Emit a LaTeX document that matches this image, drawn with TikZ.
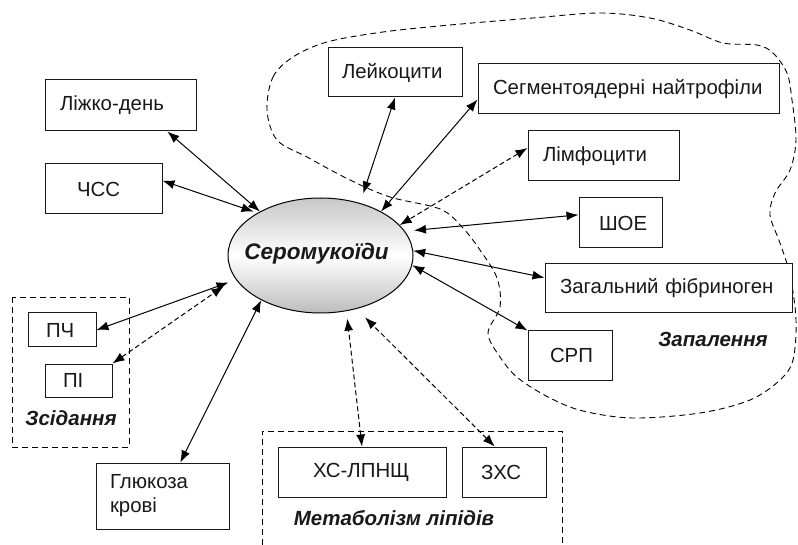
\documentclass[tikz,border=0pt]{standalone}
\usepackage{fontspec}
\setmainfont{Liberation Sans}
\usetikzlibrary{shapes.geometric,arrows.meta}
\tikzset{
  bx/.style={draw=black!90, line width=1pt, fill=white, text=black!90,
    font=\fontsize{20.4}{24}\selectfont, align=left, inner ysep=0pt},
  lbl/.style={text=black!90, font=\fontsize{20.5}{24}\selectfont\bfseries\itshape, inner sep=0pt},
  arr/.style={line width=1pt, {Latex[length=12pt,width=9pt]}-{Latex[length=12pt,width=9pt]}},
  darr/.style={arr, dash pattern=on 5pt off 3pt},
  dashline/.style={line width=0.9pt, dash pattern=on 6pt off 4pt},
}
\begin{document}
\begin{tikzpicture}[x=1pt,y=-1pt]
\useasboundingbox (0,0) rectangle (798,545);
% inflammation region
\draw[dashline] plot[smooth cycle, tension=0.55] coordinates {
 (267,110) (273,77) (293,57) (327,42) (383,32) (450,25) (533,18) (600,13)
 (650,18) (690,30) (723,43) (757,45) (773,53) (787,73) (792,100) (796,140)
 (790,170) (775,193) (770,215) (780,243) (790,275) (796,320) (793,360)
 (780,380) (750,400) (700,413) (633,418) (583,411) (550,398) (518,378)
 (500,357) (488,333) (500,307) (497,278) (480,250) (462,227) (440,209)
 (390,197) (350,180) (307,157) (277,140)};
% group frames
\draw[dashline] (12,297) rectangle (129,447);
\draw[dashline] (262,545) -- (262,431) -- (562,431) -- (562,545);

% central ellipse
\node[ellipse, draw=black, line width=1pt, minimum width=185pt, minimum height=115pt,
  inner sep=0pt, top color=black!22, bottom color=black!26, middle color=white]
  (ser) at (320.5,255.5) {};
\node[text=black!90, font=\fontsize{22.5}{26}\selectfont\bfseries\itshape, inner sep=0pt]
  (sertxt) at (316.5,254) {Серомукоїди};

% boxes
\node[bx, minimum height=51pt, inner xsep=15pt, text width=121pt] (lzh) at (120.5,105.5) {\mbox{Ліжко-день}};
\node[bx, minimum height=50pt, inner xsep=32pt, text width=53pt] (chss) at (103.5,189) {\mbox{ЧСС}};
\node[bx, minimum height=49pt, inner xsep=14pt, text width=106pt] (leik) at (395,72.5) {\mbox{Лейкоцити}};
\node[bx, minimum height=50pt, inner xsep=15pt, text width=271pt] (seg) at (628.5,89) {\mbox{Сегментоядерні найтрофіли}};
\node[bx, minimum height=50pt, inner xsep=15pt, text width=121pt] (limf) at (603.5,156) {\mbox{Лімфоцити}};
\node[bx, minimum height=50pt, inner xsep=20pt, text width=43pt] (shoe) at (620.5,223) {\mbox{ШОЕ}};
\node[bx, minimum height=49pt, inner xsep=15pt, text width=217pt] (fib) at (668.5,288.5) {\mbox{Загальний фібриноген}};
\node[bx, minimum height=49pt, inner xsep=22pt, text width=40pt] (srp) at (570,355.5) {\mbox{СРП}};
\node[bx, minimum height=34pt, inner xsep=18pt, text width=32pt] (pch) at (62,330) {\mbox{ПЧ}};
\node[bx, minimum height=33pt, inner xsep=18pt, text width=31pt] (pi) at (78.5,380.5) {\mbox{ПІ}};
\node[bx, minimum height=66pt, inner xsep=14pt, text width=105pt] (gluk) at (162.5,496) {Глюкоза\\крові};
\node[bx, minimum height=50pt, inner xsep=35pt, text width=98pt] (xs) at (362,472) {\mbox{ХС-ЛПНЩ}};
\node[bx, minimum height=50pt, inner xsep=19pt, text width=46pt] (zxs) at (504,472) {\mbox{ЗХС}};

% group labels
\node[lbl] (zap) at (713,339) {Запалення};
\node[lbl] (zsid) at (71,418) {Зсідання};
\node[lbl] (met) at (394,518) {Метаболізм ліпідів};

% connectors
\draw[arr] (lzh.-29) -- (ser.144);
\draw[arr, shorten >=4pt] (chss.8) -- (ser.146);
\draw[arr, shorten >=10pt] (leik.south) -- (ser.53);
\draw[arr] (seg.184) -- (ser.36);
\draw[darr] (limf.174) -- (ser.21);
\draw[arr, shorten >=9pt] (shoe.169) -- (ser.16);
\draw[arr] (fib.175) -- (ser.3);
\draw[arr] (srp.north west) -- (ser.-6);
\draw[darr, shorten >=12pt] (zxs.110) -- (ser.-56);
\draw[darr, shorten >=7.5pt] (xs.north) -- (ser.-65);
\draw[arr] (gluk.62) -- (ser.217);
\draw[arr, shorten >=8pt] (pch.east) -- (ser.196);
\draw[darr, shorten >=14pt] (pi.north east) -- (ser.195);
\end{tikzpicture}
\end{document}
